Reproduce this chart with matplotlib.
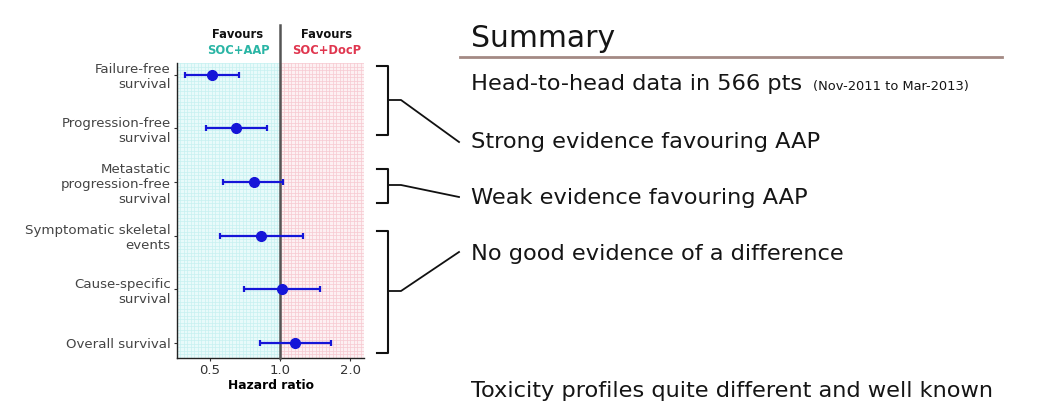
import numpy as np
import matplotlib.pyplot as plt

# Forest plot values (hazard ratio with 95% CI)
outcomes = ['Failure-free\nsurvival', 'Progression-free\nsurvival',
            'Metastatic\nprogression-free\nsurvival',
            'Symptomatic skeletal\nevents', 'Cause-specific\nsurvival',
            'Overall survival']
hr = [0.51, 0.65, 0.77, 0.83, 1.02, 1.16]
ci_low = [0.39, 0.48, 0.57, 0.55, 0.70, 0.82]
ci_high = [0.67, 0.88, 1.03, 1.25, 1.49, 1.65]
xticks = [0.5, 1.0, 2.0]
xtick_labels = ['0.5', '1.0', '2.0']

# Summary text on the right
summary_lines = ['Head-to-head data in 566 pts', 'Strong evidence favouring AAP',
                 'Weak evidence favouring AAP', 'No good evidence of a difference',
                 'Toxicity profiles quite different and well known']

W, H = 1047, 413
fig = plt.figure(figsize=(W / 100, H / 100), dpi=100)
fig.patch.set_facecolor('white')

ax = fig.add_axes([177 / W, 1 - 358 / H, (364 - 177) / W, (358 - 63) / H])
ax.set_xscale('log')
xmin, xmax = 0.361, 2.297
ax.set_xlim(xmin, xmax)
ax.set_ylim(5.28, -0.22)

# shaded halves
ax.axvspan(xmin, 1.0, color='#e8fafa', zorder=0, lw=0)
ax.axvspan(1.0, xmax, color='#fdf0f2', zorder=0, lw=0)

# fine grid
split = (280 - 177) / (364 - 177)
for f in np.linspace(0, 1, 55):
    ax.plot([f, f], [0, 1], transform=ax.transAxes, lw=0.5,
            color='#c6f0f0' if f < split else '#f7c9d0', zorder=1)
for f in np.linspace(0, 1, 85):
    ax.plot([0, split], [f, f], transform=ax.transAxes, lw=0.5, color='#c6f0f0', zorder=1)
    ax.plot([split, 1], [f, f], transform=ax.transAxes, lw=0.5, color='#f7c9d0', zorder=1)

ax.axvline(1.0, ymin=0, ymax=1 + 38 / 295, color='#555555', lw=1.8, clip_on=False, zorder=3)

y = np.arange(len(outcomes))
hr_a = np.array(hr)
err = [hr_a - np.array(ci_low), np.array(ci_high) - hr_a]
ax.errorbar(hr, y, xerr=err, fmt='o', color='#1515d8', ecolor='#1515d8',
            elinewidth=1.6, capsize=2.5, capthick=1.6, markersize=7, zorder=4)

ax.set_yticks(y)
ax.set_yticklabels(outcomes, fontsize=9.6, color='#444444', linespacing=1.2)
ax.set_xticks(xticks)
ax.set_xticklabels(xtick_labels, fontsize=9.5, color='#333333')
ax.xaxis.set_minor_locator(plt.NullLocator())
ax.tick_params(axis='both', length=2.5, width=0.8, color='#333333', pad=2)
ax.set_xlabel('Hazard ratio', fontsize=8.8, fontweight='bold', labelpad=1)
for s in ['top', 'right']:
    ax.spines[s].set_visible(False)
for s in ['left', 'bottom']:
    ax.spines[s].set_linewidth(1.0)
    ax.spines[s].set_color('#222222')

# overlay in pixel coordinates for headers, brackets and summary
ov = fig.add_axes([0, 0, 1, 1], facecolor='none')
ov.set_xlim(0, W)
ov.set_ylim(H, 0)
ov.axis('off')

ov.text(238, 35, 'Favours', ha='center', va='center', fontsize=8.3, fontweight='bold', color='#111111')
ov.text(238, 50, 'SOC+AAP', ha='center', va='center', fontsize=8.3, fontweight='bold', color='#2ab5a5')
ov.text(327, 35, 'Favours', ha='center', va='center', fontsize=8.3, fontweight='bold', color='#111111')
ov.text(327, 50, 'SOC+DocP', ha='center', va='center', fontsize=8.3, fontweight='bold', color='#e0364f')

# brackets
brackets = [(66, 135, 100, (459, 142)), (169, 203, 185, (459, 197)), (231, 353, 291, (459, 252))]
for top, bot, mid, end in brackets:
    ov.plot([377, 388, 388, 377], [top, top, bot, bot], color='#111111', lw=1.5)
    ov.plot([388, 401, end[0]], [mid, mid, end[1]], color='#111111', lw=1.3)

font = 'DejaVu Sans'
ov.text(471, 47, 'Summary', fontsize=21.5, family=font, color='#151515', va='baseline')
ov.plot([460, 1002], [57, 57], color='#a48a84', lw=2)
ov.text(471, 90, summary_lines[0], fontsize=16.2, family=font, color='#151515', va='baseline')
ov.text(813, 90, '(Nov-2011 to Mar-2013)', fontsize=9.4, family=font, color='#151515', va='baseline')
ov.text(471, 148, summary_lines[1], fontsize=16.2, family=font, color='#151515', va='baseline')
ov.text(471, 204, summary_lines[2], fontsize=16.2, family=font, color='#151515', va='baseline')
ov.text(471, 260, summary_lines[3], fontsize=16.2, family=font, color='#151515', va='baseline')
ov.text(471, 397, summary_lines[4], fontsize=16.2, family=font, color='#151515', va='baseline')

fig.savefig('out.png', dpi=100)
